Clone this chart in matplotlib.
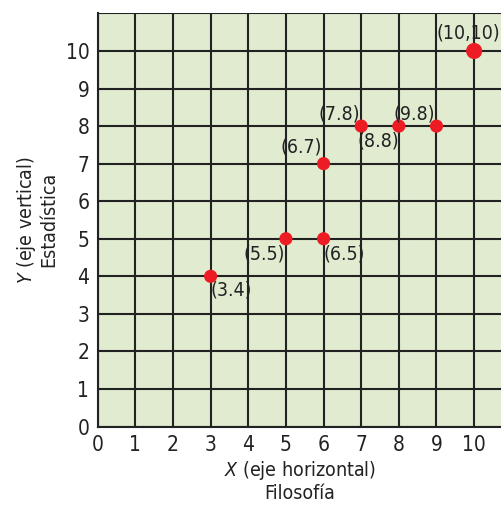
import matplotlib
matplotlib.use('Agg')
import matplotlib.pyplot as plt

plt.rcParams['font.family'] = ['DejaVu Sans']
plt.rcParams['font.stretch'] = 'condensed'
plt.rcParams['mathtext.fontset'] = 'custom'
plt.rcParams['mathtext.it'] = 'DejaVu Sans:italic'
plt.rcParams['mathtext.rm'] = 'DejaVu Sans'

# data
xs = [3, 5, 6, 6, 7, 8, 9, 10]
ys = [4, 5, 5, 7, 8, 8, 8, 10]
labels = ['(3.4)', '(5.5)', '(6.5)', '(6.7)', '(7.8)', '(8.8)', '(9.8)', '(10,10)']
# label offsets in points (dx, dy) and alignment
offsets = [(0, -3), (-1, -4), (0, -4), (-1, 5), (-1, 2), (0, -4), (-1, 2), (-4, 6)]
aligns = [('left', 'top'), ('right', 'top'), ('left', 'top'), ('right', 'bottom'),
          ('right', 'bottom'), ('right', 'top'), ('right', 'bottom'), ('center', 'bottom')]
sizes = [90, 90, 90, 90, 90, 90, 90, 135]
ticks = list(range(0, 11))

fig = plt.figure(figsize=(5.02, 5.05), dpi=100)
ax = fig.add_axes([0.1946, 0.1554, 0.8054, 0.8195])
ax.set_facecolor('#e0ebd0')
ax.set_xlim(0, 10.74)
ax.set_ylim(0, 11.02)

for v in ticks:
    ax.axvline(v, color='#222222', lw=1.5, zorder=1)
for v in ticks + [11]:
    ax.axhline(v, color='#222222', lw=1.5, zorder=1)

ax.scatter(xs, ys, s=sizes, color='#ed1c24', zorder=3, linewidths=0)
for x, y, lab, (dx, dy), (ha, va) in zip(xs, ys, labels, offsets, aligns):
    ax.annotate(lab, (x, y), xytext=(dx, dy), textcoords='offset points',
                ha=ha, va=va, fontsize=14, color='#222222', zorder=4)

for side in ['top', 'right']:
    ax.spines[side].set_visible(False)
for side in ['left', 'bottom']:
    ax.spines[side].set_color('#222222')
    ax.spines[side].set_linewidth(1.5)

ax.set_xticks(ticks)
ax.set_yticks(ticks)
ax.tick_params(length=0, labelsize=15, colors='#222222', pad=6)
ax.set_xlabel('$X$ (eje horizontal)\nFilosofía', fontsize=14, color='#222222',
              linespacing=1.1, labelpad=3)
ax.set_ylabel('$Y$ (eje vertical)\nEstadística', fontsize=14, color='#222222',
              linespacing=1.1, labelpad=5)

plt.savefig('out.png', dpi=100)
